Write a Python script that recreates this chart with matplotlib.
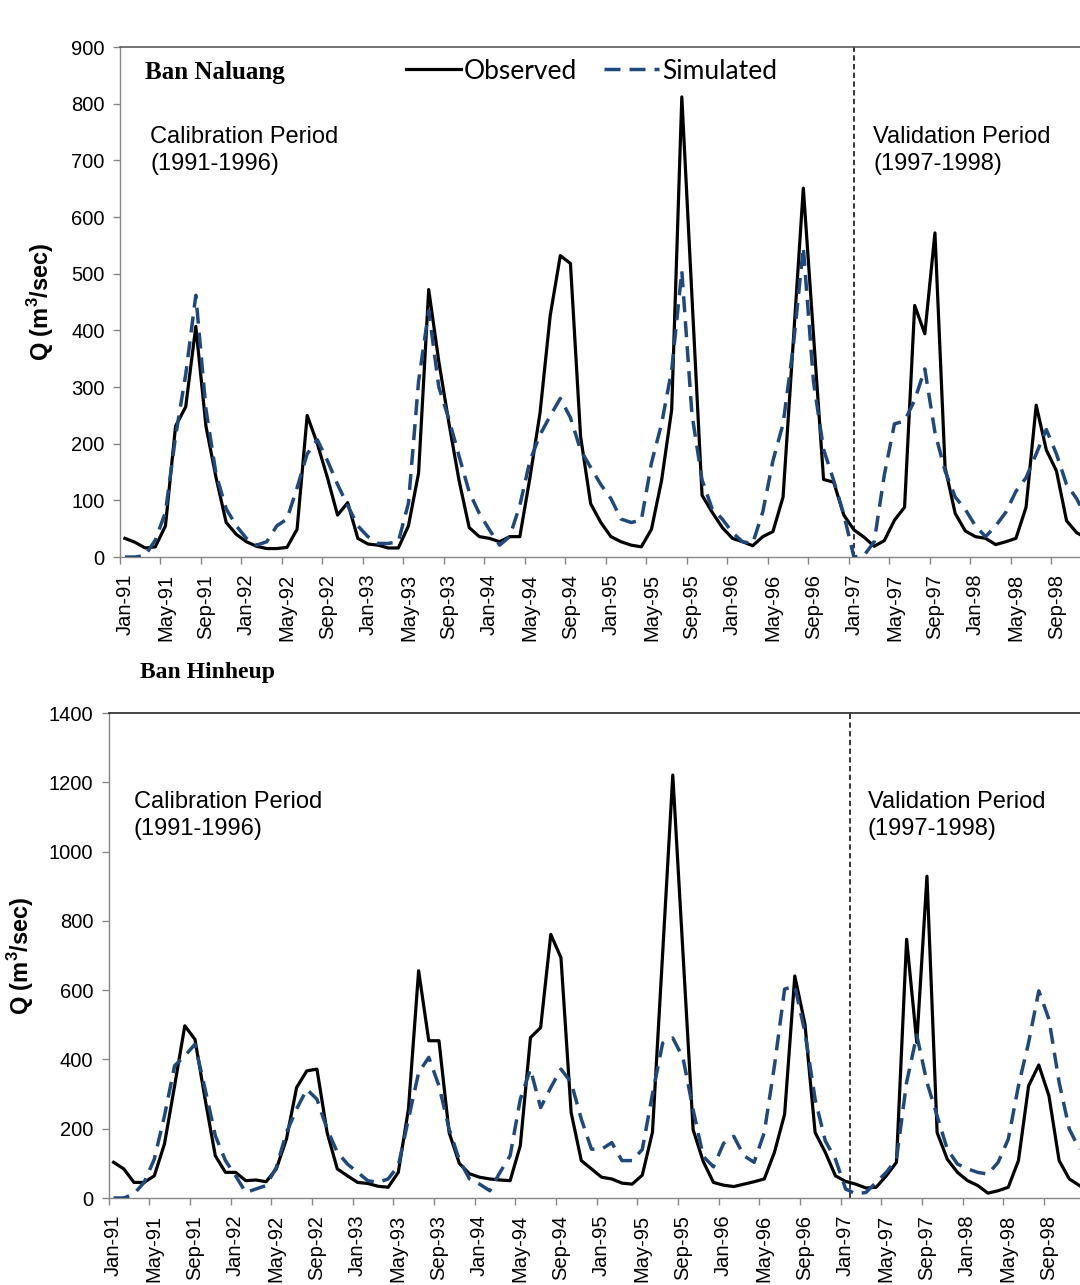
import numpy as np
import pandas as pd
import matplotlib
matplotlib.use('Agg')
from matplotlib import pyplot as plt

plt.rcParams['font.family'] = ['Liberation Sans', 'DejaVu Sans']
plt.rcParams['mathtext.fontset'] = 'custom'
plt.rcParams['mathtext.rm'] = 'Liberation Sans:bold'
plt.rcParams['mathtext.bf'] = 'Liberation Sans:bold'

#Monthly time steps, Jan-91 to Dec-98
months = pd.date_range('1991-01-01', periods=96, freq='MS')
month_labels = list(months.strftime('%b-%y'))

#Discharge (m3/sec)
naluang_obs = [33, 26, 16, 18, 55, 231, 265, 407, 231, 140, 61, 40,
               27, 19, 15, 15, 17, 49, 250, 200, 140, 74, 96, 33,
               23, 21, 16, 16, 55, 148, 472, 345, 236, 135, 52, 36,
               33, 27, 36, 36, 140, 255, 426, 532, 518, 213, 94, 61,
               36, 27, 21, 18, 49, 135, 260, 812, 460, 109, 79, 52,
               33, 27, 20, 36, 45, 106, 378, 651, 393, 137, 132, 74,
               48, 35, 19, 29, 65, 88, 444, 394, 572, 158, 77, 46,
               36, 33, 22, 27, 33, 88, 268, 189, 152, 64, 43, 33]
naluang_sim = [0, 0, 3, 30, 79, 213, 322, 462, 261, 146, 85, 55,
               33, 21, 27, 55, 67, 122, 182, 207, 170, 128, 91, 55,
               36, 24, 24, 27, 95, 310, 435, 300, 243, 178, 115, 77,
               48, 21, 36, 91, 170, 216, 249, 280, 246, 189, 158, 128,
               103, 67, 61, 65, 166, 235, 330, 505, 252, 136, 85, 67,
               43, 27, 24, 80, 170, 235, 370, 547, 310, 190, 135, 75,
               0, 3, 27, 145, 235, 240, 277, 332, 220, 152, 106, 84,
               55, 36, 55, 79, 116, 140, 182, 225, 182, 128, 103, 67]
hinheup_obs = [103, 84, 45, 45, 64, 156, 324, 497, 458, 285, 122, 74,
               74, 50, 52, 47, 84, 170, 319, 367, 372, 189, 84, 64,
               45, 42, 34, 31, 74, 257, 656, 454, 454, 189, 100, 70,
               60, 55, 52, 50, 151, 463, 492, 761, 694, 247, 108, 84,
               60, 55, 43, 40, 66, 190, 705, 1221, 708, 197, 105, 45,
               37, 33, 40, 47, 55, 132, 242, 641, 502, 189, 132, 64,
               48, 40, 29, 31, 64, 103, 747, 449, 929, 189, 112, 74,
               50, 36, 14, 21, 31, 108, 324, 384, 295, 108, 55, 36]
hinheup_sim = [0, 0, 12, 45, 112, 237, 382, 410, 444, 314, 180, 108,
               64, 16, 26, 36, 88, 189, 257, 314, 285, 199, 132, 98,
               74, 50, 45, 55, 93, 228, 362, 406, 324, 199, 110, 55,
               40, 21, 74, 122, 285, 372, 261, 319, 372, 334, 228, 141,
               141, 160, 108, 108, 140, 300, 447, 462, 405, 255, 120, 90,
               158, 178, 122, 103, 189, 382, 603, 612, 478, 285, 165, 112,
               26, 12, 16, 45, 74, 112, 334, 470, 334, 237, 141, 98,
               84, 74, 69, 103, 170, 324, 449, 598, 516, 334, 199, 141]

#Position of the calibration / validation split on each chart (month index)
split_naluang = 72.05
split_hinheup = 72.4

obs_color = 'black'
sim_color = '#1F497D'
spine_gray = '#868686'


def hydrograph(ax, obs, sim, ymax, ystep, split, top_color):
    x = np.arange(len(obs))
    l_obs, = ax.plot(x, obs, color=obs_color, lw=2.3, label='Observed', zorder=3)
    l_sim, = ax.plot(x, sim, color=sim_color, lw=2.5, ls=(0, (4.6, 2.6)), label='Simulated', zorder=4)
    ax.axvline(split, color='black', lw=1.1, ls=(0, (3.5, 2.2)), zorder=2)

    ax.set_xlim(-0.5, len(obs) - 0.5)
    ax.set_ylim(0, ymax)
    ax.set_yticks(np.arange(0, ymax + 1, ystep))

    #labels sit on the months, the small tick marks between them (Excel style)
    ax.set_xticks(x[::4])
    ax.set_xticklabels(month_labels[::4], rotation=90, fontsize=14.5)
    ax.set_xticks(np.arange(-0.5, len(obs), 4), minor=True)
    ax.tick_params(axis='x', which='major', length=0, pad=12)
    ax.tick_params(axis='x', which='minor', length=5, width=1, color=spine_gray, direction='out')
    ax.tick_params(axis='y', labelsize=14.5, length=5, width=1, color=spine_gray, pad=6)

    for side in ['left', 'bottom']:
        ax.spines[side].set_color(spine_gray)
        ax.spines[side].set_linewidth(1)
    ax.spines['top'].set_color(top_color)
    ax.spines['top'].set_linewidth(1.2)
    ax.spines['right'].set_visible(False)
    ax.set_ylabel(r'Q (m$^{3}$/sec)', fontsize=17, fontweight='bold')
    return l_obs, l_sim


fig = plt.figure(figsize=(10.8, 12.85), dpi=100)

#Ban Naluang (top)
ax1 = fig.add_axes([0.1110, 0.5665, 0.900, 0.3969])
h_obs, h_sim = hydrograph(ax1, naluang_obs, naluang_sim, 900, 100, split_naluang, '#595959')
ax1.yaxis.set_label_coords(-0.066, 0.5)
ax1.text(0.026, 0.951, 'Ban Naluang', transform=ax1.transAxes, fontsize=18, fontweight='bold',
         family=['Liberation Serif', 'DejaVu Serif'], va='center', ha='left')
ax1.text(0.031, 0.846, 'Calibration Period\n(1991-1996)', transform=ax1.transAxes,
         fontsize=17, va='top', ha='left', linespacing=1.32)
ax1.text(0.775, 0.846, 'Validation Period\n(1997-1998)', transform=ax1.transAxes,
         fontsize=17, va='top', ha='left', linespacing=1.32)
ax1.legend(handles=[h_obs, h_sim], loc='center left', bbox_to_anchor=(0.294, 0.953), ncol=2,
           frameon=False, borderpad=0, borderaxespad=0, handlelength=2.1, handletextpad=0.12,
           columnspacing=1.0, prop={'family': ['Lato', 'DejaVu Sans'], 'size': 19})

#Ban Hinheup (bottom)
ax2 = fig.add_axes([0.1005, 0.0677, 0.9037, 0.3774])
hydrograph(ax2, hinheup_obs, hinheup_sim, 1400, 200, split_hinheup, '#262626')
ax2.yaxis.set_label_coords(-0.074, 0.5)
ax2.text(0.026, 0.840, 'Calibration Period\n(1991-1996)', transform=ax2.transAxes,
         fontsize=17, va='top', ha='left', linespacing=1.32)
ax2.text(0.778, 0.840, 'Validation Period\n(1997-1998)', transform=ax2.transAxes,
         fontsize=17, va='top', ha='left', linespacing=1.32)
fig.text(0.1296, 0.477, 'Ban Hinheup', fontsize=17, fontweight='bold',
         family=['Liberation Serif', 'DejaVu Serif'], va='center', ha='left')

plt.savefig('out.png', dpi=100)
